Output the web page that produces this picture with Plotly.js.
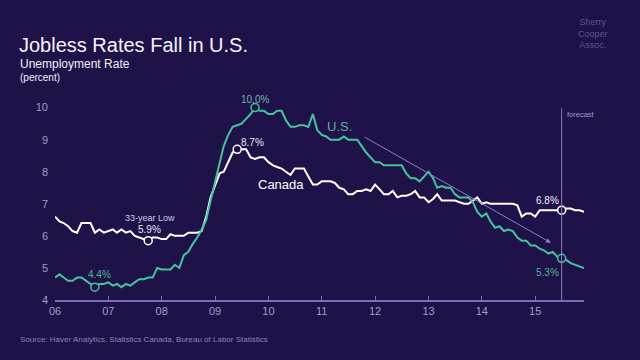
<!DOCTYPE html>
<html>
<head>
<meta charset="utf-8">
<script src="https://cdn.plot.ly/plotly-3.0.1.min.js"></script>
<style>
  html, body { margin: 0; padding: 0; background: #1f1249; }
  #chart { width: 640px; height: 360px; }
</style>
</head>
<body>
<div id="chart"></div>
<script>
// Monthly data, Jan 2006 .. Dec 2015 (forecast after Jul 2015)
const startYear = 2006;
const usRate = [
  4.7,4.8,4.7,4.6,4.6,4.7,4.7,4.6,4.5,4.4,4.5,4.5,
  4.55,4.45,4.5,4.4,4.5,4.45,4.55,4.65,4.65,4.7,4.7,5.0,
  4.95,4.95,4.95,5.1,5.0,5.4,5.5,5.75,5.95,6.2,6.5,7.1,
  7.7,8.35,8.8,9.15,9.4,9.45,9.5,9.65,9.8,10.0,9.9,9.9,
  9.8,9.8,9.9,9.9,9.6,9.4,9.4,9.45,9.45,9.4,9.8,9.3,
  9.15,9.1,9.0,9.0,9.0,9.1,9.0,9.0,9.0,8.8,8.6,8.45,
  8.3,8.3,8.2,8.2,8.2,8.2,8.2,7.95,7.8,7.8,7.7,7.85,
  8.0,7.8,7.5,7.55,7.5,7.5,7.3,7.2,7.2,7.2,7.05,6.75,
  6.6,6.7,6.45,6.25,6.3,6.15,6.2,6.15,5.95,5.85,5.85,5.7,
  5.7,5.6,5.55,5.45,5.5,5.35,5.3,5.25,5.15,5.1,5.05,5.0
];
const canadaRate = [
  6.6,6.45,6.4,6.3,6.15,6.1,6.4,6.4,6.4,6.1,6.2,6.1,
  6.15,6.2,6.1,6.2,6.1,6.15,6.0,5.95,5.9,5.85,5.95,5.95,
  5.9,5.9,6.05,6.0,6.0,6.0,6.1,6.1,6.1,6.15,6.6,7.2,
  7.6,7.95,8.0,8.3,8.6,8.7,8.7,8.7,8.45,8.4,8.45,8.45,
  8.3,8.2,8.15,8.1,8.0,7.9,8.1,8.1,8.1,7.85,7.6,7.6,
  7.7,7.7,7.7,7.65,7.5,7.45,7.3,7.3,7.4,7.4,7.45,7.4,
  7.6,7.45,7.3,7.3,7.4,7.2,7.25,7.25,7.3,7.4,7.2,7.2,
  7.05,7.15,7.3,7.1,7.1,7.1,7.1,7.05,7.0,7.0,7.1,7.2,
  7.0,7.05,7.0,7.0,7.0,7.0,7.0,7.0,6.95,6.6,6.7,6.7,
  6.6,6.8,6.8,6.8,6.8,6.8,6.8,6.85,6.85,6.8,6.8,6.75
];
const tickYears = ['2006','2007','2008','2009','2010','2011','2012','2013','2014','2015'];
const tickLabels = ['06','07','08','09','10','11','12','13','14','15'];
const forecastStart = '2015-07-01';
// highlighted points: [date, value]
const usMarks = [['2006-10-01', 4.4], ['2009-10-01', 10.0], ['2015-07-01', 5.3]];
const caMarks = [['2007-10-01', 5.85], ['2009-06-01', 8.7], ['2015-07-01', 6.8]];

const months = usRate.map((_, i) => {
  const y = startYear + Math.floor(i / 12);
  const m = (i % 12) + 1;
  return y + '-' + String(m).padStart(2, '0') + '-01';
});

const BG = '#1f1249';
const TEAL = '#45c39c';
const WHITE = '#ffffff';
const AXIS = '#7a6eb4';
const LAV = '#a39cc8';
const FONT = 'Arial, "Liberation Sans", sans-serif';

const traces = [
  { x: months, y: canadaRate, type: 'scatter', mode: 'lines',
    line: { color: WHITE, width: 2 }, hoverinfo: 'skip', name: 'Canada' },
  { x: months, y: usRate, type: 'scatter', mode: 'lines',
    line: { color: TEAL, width: 2 }, hoverinfo: 'skip', name: 'U.S.' },
  { x: caMarks.map(d => d[0]), y: caMarks.map(d => d[1]), type: 'scatter', mode: 'markers',
    marker: { size: 8, color: BG, line: { color: WHITE, width: 1.5 } }, cliponaxis: false, hoverinfo: 'skip' },
  { x: usMarks.map(d => d[0]), y: usMarks.map(d => d[1]), type: 'scatter', mode: 'markers',
    marker: { size: 8, color: BG, line: { color: TEAL, width: 1.5 } }, cliponaxis: false, hoverinfo: 'skip' }
];

const ann = (x, y, text, color, size, extra) => Object.assign({
  x, y, xref: 'x', yref: 'y', text, showarrow: false,
  font: { family: FONT, size, color }, xanchor: 'center', yanchor: 'middle'
}, extra || {});

const layout = {
  width: 640, height: 360,
  paper_bgcolor: BG, plot_bgcolor: BG,
  margin: { l: 55, r: 56, t: 98, b: 60 },
  showlegend: false,
  font: { family: FONT, color: LAV },
  title: {
    text: 'Jobless Rates Fall in U.S.',
    xref: 'container', yref: 'container',
    x: 19 / 640, xanchor: 'left',
    y: 1 - 45 / 360, yanchor: 'middle',
    font: { family: FONT, size: 20, color: '#f4f2fa' }
  },
  xaxis: {
    type: 'date', range: ['2006-01-01', '2015-12-01'],
    showgrid: false, zeroline: false,
    showline: true, linecolor: AXIS, linewidth: 1.5,
    ticks: 'inside', ticklen: 4, tickcolor: AXIS, tickwidth: 1,
    tickvals: tickYears.map(y => y + '-01-01'), ticktext: tickLabels,
    tickfont: { family: FONT, size: 11, color: LAV }
  },
  yaxis: {
    range: [4, 10.3], showgrid: false, zeroline: false, showline: false,
    tickvals: [4, 5, 6, 7, 8, 9, 10], ticks: '',
    ticklabelstandoff: 6,
    tickfont: { family: FONT, size: 11, color: LAV }
  },
  shapes: [
    { type: 'line', xref: 'x', yref: 'y', x0: forecastStart, x1: forecastStart, y0: 4, y1: 9.98,
      line: { color: '#8a7ec0', width: 1 } }
  ],
  annotations: [
    { xref: 'paper', yref: 'paper', x: -37 / 529, y: (300 - 64) / 202, xanchor: 'left', yanchor: 'middle',
      text: 'Unemployment Rate', showarrow: false, font: { family: FONT, size: 12, color: '#f0eef8' } },
    { xref: 'paper', yref: 'paper', x: -37 / 529, y: (300 - 78) / 202, xanchor: 'left', yanchor: 'middle',
      text: '(percent)', showarrow: false, font: { family: FONT, size: 10, color: '#f0eef8' } },
    { xref: 'paper', yref: 'paper', x: -37 / 529, y: (300 - 339) / 202, xanchor: 'left', yanchor: 'middle',
      text: 'Source: Haver Analytics, Statistics Canada, Bureau of Labor Statistics', showarrow: false,
      font: { family: FONT, size: 8, color: '#8d84ba' } },
    { xref: 'paper', yref: 'paper', x: (593 - 55) / 529, y: (300 - 34) / 202, xanchor: 'center', yanchor: 'middle',
      text: 'Sherry<br>Cooper<br>Assoc.', showarrow: false,
      font: { family: FONT, size: 9, color: '#5f558f' } },
    { x: forecastStart, y: 9.77, xref: 'x', yref: 'y', text: 'forecast', showarrow: false,
      xanchor: 'left', yanchor: 'middle', xshift: 3, font: { family: FONT, size: 7.5, color: LAV } },
    ann('2006-11-04', 4.80, '4.4%', '#4fb595', 10),
    ann('2007-10-11', 6.545, '33-year Low', '#cfcbe2', 9),
    ann('2007-10-11', 6.21, '5.9%', '#e6e3f0', 10),
    ann('2009-09-28', 10.26, '10.0%', '#6fb3a6', 10),
    ann('2009-09-13', 8.90, '8.7%', '#e6e3f0', 10),
    ann('2011-05-01', 9.42, 'U.S.', '#5db0a0', 13),
    ann('2010-03-28', 7.60, 'Canada', '#ffffff', 13),
    ann('2015-03-28', 7.09, '6.8%', '#f2f0f8', 10),
    ann('2015-03-28', 4.86, '5.3%', '#4fb595', 10),
    { x: '2015-04-19', y: 5.785, ax: '2011-10-10', ay: 9.11, xref: 'x', yref: 'y', axref: 'x', ayref: 'y',
      text: '', showarrow: true, arrowhead: 2, arrowsize: 1, arrowwidth: 1, arrowcolor: '#8f80c4' }
  ]
};

Plotly.newPlot('chart', traces, layout, { staticPlot: true, displayModeBar: false });
</script>
</body>
</html>
